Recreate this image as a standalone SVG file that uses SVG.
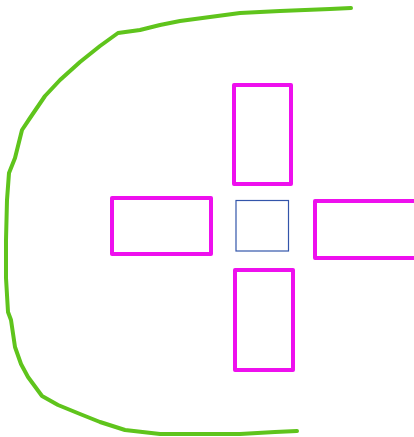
<svg xmlns="http://www.w3.org/2000/svg" width="414" height="437" viewBox="0 0 414 437">
<style>
.m{fill:none;stroke:#ee10ee;stroke-width:4;stroke-linejoin:round}
.b{fill:none;stroke:#3355aa;stroke-width:1.2}
.g{fill:none;stroke:#5fc41c;stroke-width:4;stroke-linejoin:round;stroke-linecap:round}
</style>
<rect width="414" height="437" fill="#fff"/>
<g id="curve"><polyline class="g" points="351,8 330,9 280,11 240,13 210,17 180,21 160,25 140,30 118,33 100,46 80,62 60,80 45,96 30,118 22,130 15,158 9,173 7,200 6,240 6,278 8,312 11,320 15,347 21,364 28,377 42,396 58,405 80,414 100,422 125,430 160,434 200,434 240,434 275,432 297,431"/></g>
<g id="top"><rect class="m" x="234" y="85" width="57" height="99"/></g>
<g id="left"><rect class="m" x="112" y="198" width="99" height="56"/></g>
<g id="center"><rect class="b" x="236" y="200.5" width="52.5" height="50.5"/></g>
<g id="right"><rect class="m" x="315" y="201" width="102" height="57"/></g>
<g id="bottom"><rect class="m" x="235" y="270" width="58" height="100"/></g>
</svg>
